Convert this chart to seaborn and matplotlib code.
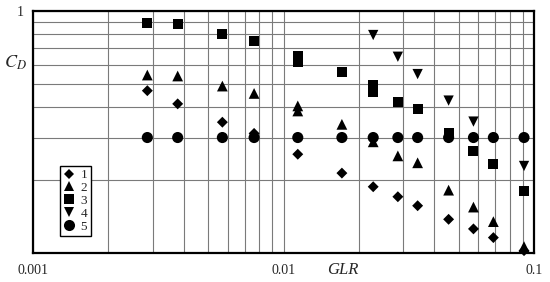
from matplotlib import pyplot as plt
from matplotlib import ticker
import seaborn as sns
import pandas as pd

# GLR columns
A, B, C, D, E, F, G = 0.00286, 0.00378, 0.00570, 0.00763, 0.0114, 0.0171, 0.0228
H, I, J, K, L, M = 0.0286, 0.0343, 0.0456, 0.0573, 0.0688, 0.0912

s1_x = [A, B, C, D, E, F, G, H, I, J, K, L, M]
s1_y = [0.468, 0.413, 0.347, 0.312, 0.256, 0.214, 0.188, 0.171, 0.157, 0.138, 0.126, 0.116, 0.1025]

s2_x = [A, B, C, D, E, E, F, G, H, I, J, K, L, M]
s2_y = [0.543, 0.538, 0.489, 0.456, 0.405, 0.386, 0.340, 0.288, 0.252, 0.236, 0.182, 0.155, 0.135, 0.1065]

s3_x = [A, B, C, D, E, E, F, G, G, H, I, J, K, L, M]
s3_y = [0.892, 0.882, 0.802, 0.750, 0.651, 0.615, 0.557, 0.494, 0.462, 0.422, 0.392, 0.312, 0.265, 0.233, 0.181]

s4_x = [G, H, I, J, K, M]
s4_y = [0.794, 0.646, 0.548, 0.426, 0.349, 0.229]

s5_x = [A, B, C, D, E, F, G, H, I, J, K, L, M]
s5_y = [0.30] * 13

series = ["1", "2", "3", "4", "5"]
xs = [s1_x, s2_x, s3_x, s4_x, s5_x]
ys = [s1_y, s2_y, s3_y, s4_y, s5_y]

df = pd.concat(
    [pd.DataFrame({"GLR": x, "CD": y, "series": s}) for s, x, y in zip(series, xs, ys)],
    ignore_index=True,
)

sns.set_style("white")
plt.rcParams["font.family"] = ["Liberation Serif", "DejaVu Serif"]
plt.rcParams["mathtext.fontset"] = "stix"

fig = plt.figure(figsize=(5.5, 2.82), dpi=100)
ax = fig.add_axes([0.06, 0.102, 0.911, 0.860])

sns.scatterplot(
    data=df,
    x="GLR",
    y="CD",
    hue="series",
    style="series",
    size="series",
    palette=["black"] * 5,
    markers={"1": "D", "2": "^", "3": "s", "4": "v", "5": "o"},
    sizes={"1": 31, "2": 60, "3": 52, "4": 55, "5": 64},
    linewidth=0,
    ax=ax,
    clip_on=False,
    zorder=3,
)

ax.set_xscale("log")
ax.set_yscale("log")
ax.set_xlim(0.001, 0.1)
ax.set_ylim(0.1, 1)

ax.set_xticks([0.001, 0.01, 0.1], ["0.001", "0.01", "0.1"])
ax.set_yticks([0.1, 1], ["", "1"])
ax.xaxis.set_minor_locator(ticker.LogLocator(base=10, subs=range(2, 10)))
ax.yaxis.set_minor_locator(ticker.LogLocator(base=10, subs=range(2, 10)))
ax.xaxis.set_minor_formatter(ticker.NullFormatter())
ax.yaxis.set_minor_formatter(ticker.NullFormatter())
ax.tick_params(which="both", length=0, labelsize=10)
ax.tick_params(axis="x", pad=8)
ax.tick_params(axis="y", pad=7)

ax.grid(True, which="both", color="#7a7a7a", linewidth=0.8)
for sp in ax.spines.values():
    sp.set_color("black")
    sp.set_linewidth(1.6)

ax.set_xlabel("")
ax.set_ylabel("")
ax.text(0.618, -0.07, "GLR", transform=ax.transAxes, fontsize=12,
        style="italic", ha="center", va="center")
ax.text(-0.036, 0.785, r"$C_D$", transform=ax.transAxes, fontsize=13,
        ha="center", va="center")

ax.legend(
    loc="lower left",
    bbox_to_anchor=(0.054, 0.071),
    borderaxespad=0,
    frameon=True,
    fancybox=False,
    edgecolor="black",
    framealpha=1,
    fontsize=9.5,
    labelspacing=0.05,
    handlelength=0.9,
    handletextpad=0.4,
    borderpad=0.25,
    title=None,
)
ax.get_legend().get_frame().set_linewidth(1.0)

fig.savefig("out.png", dpi=100)
